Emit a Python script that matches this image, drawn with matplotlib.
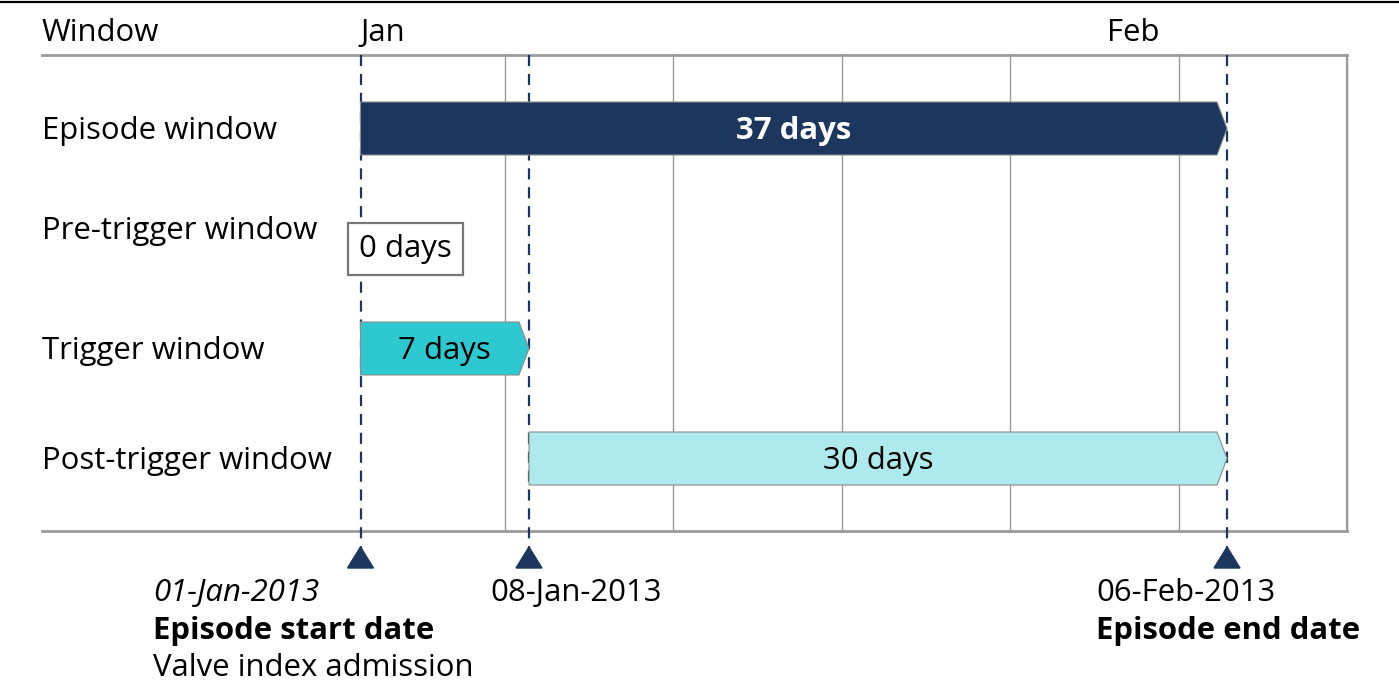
import numpy as np
import pandas as pd
import matplotlib.pyplot as plt
import matplotlib.dates as mdates
from matplotlib.patches import Polygon

plt.rcParams['font.family'] = ['Open Sans', 'DejaVu Sans']

# data
windows = ['Episode window', 'Pre-trigger window', 'Trigger window', 'Post-trigger window']
win_start = ['2013-01-01', '2013-01-01', '2013-01-01', '2013-01-08']
win_end = ['2013-02-06', '2013-01-01', '2013-01-08', '2013-02-06']
win_days = [37, 0, 7, 30]
win_colors = ['#1c365e', '#ffffff', '#2ec9d0', '#aeeaed']
win_text_colors = ['white', 'black', 'black', 'black']

month_ticks = ['2013-01-01', '2013-02-01']
month_labels = ['Jan', 'Feb']
week_lines = pd.date_range('2013-01-07', '2013-02-11', freq='7D')

key_dates = ['2013-01-01', '2013-01-08', '2013-02-06']
key_labels = ['01-Jan-2013', '08-Jan-2013', '06-Feb-2013']
key_titles = ['Episode start date', '', 'Episode end date']
key_notes = ['Valve index admission', '', '']

navy = '#1c365e'
grid_grey = '#9a9a9a'
fs = 22.4

# layout: 24.07 px per day, 01-Jan at pixel 360.5
W, H = 1399, 700
px_day = 24.07
d0 = mdates.date2num(pd.Timestamp('2013-01-01'))
xmin = d0 - 360.5 / px_day
xmax = xmin + W / px_day

def xd(s):
    return mdates.date2num(pd.Timestamp(s))

def px(p):
    return xmin + p / px_day

fig = plt.figure(figsize=(W / 100, H / 100), dpi=100)
ax = fig.add_axes([0, 0, 1, 1])
ax.set_xlim(xmin, xmax)
ax.set_ylim(H, 0)
ax.axis('off')

row_y = [128.5, 238, 348.5, 458.5]
bar_h = 53
tip = 10 / px_day
right_edge = xd(week_lines[-1])
label_x = px(42)
dy = 3  # nudge text down to match reference baseline

# top border
fig.add_artist(plt.Line2D([0, 1], [1 - 1.5 / H, 1 - 1.5 / H], color='black', lw=1.6))

# frame lines
ax.plot([label_x, right_edge], [55, 55], color=grid_grey, lw=2, zorder=1)
ax.plot([label_x, right_edge], [531, 531], color=grid_grey, lw=2, zorder=1)
for w in week_lines:
    ax.plot([xd(w), xd(w)], [55, 531], color=grid_grey, lw=1, zorder=1)
ax.plot([right_edge, right_edge], [55, 531], color=grid_grey, lw=1.6, zorder=1)

# header
ax.text(label_x, 30 + dy, 'Window', fontsize=fs, va='center', ha='left')
for m, lab in zip(month_ticks, month_labels):
    ax.text(xd(m), 30 + dy, lab, fontsize=fs, va='center', ha='left')

# dashed markers and triangles
for d in key_dates:
    x = xd(d)
    ax.plot([x, x], [55, 552], color=navy, lw=1.6, dashes=(5, 3.5), zorder=2)
    tri = Polygon([[x - 13 / px_day, 568], [x + 13 / px_day, 568], [x, 547]],
                  closed=True, color=navy, zorder=3)
    ax.add_patch(tri)

# rows
for i, name in enumerate(windows):
    y = row_y[i]
    ax.text(label_x, y + dy - (10 if i == 1 else 0), name, fontsize=fs, va='center', ha='left')
    s, e = xd(win_start[i]), xd(win_end[i])
    if win_days[i] == 0:
        ax.text(s - 1.5 / px_day, y + dy + 8, f'{win_days[i]} days', fontsize=fs,
                va='center', ha='left', zorder=4,
                bbox=dict(boxstyle='square,pad=0.36', fc='white', ec='#777777', lw=1.6))
        continue
    yt, yb = y - bar_h / 2, y + bar_h / 2
    poly = Polygon([[s, yt], [e - tip, yt], [e, y], [e - tip, yb], [s, yb]], closed=True,
                   fc=win_colors[i], ec='#8c8c8c', lw=0.8, zorder=4)
    ax.add_patch(poly)
    ax.text((s + e) / 2, y + dy, f'{win_days[i]} days', fontsize=fs, va='center', ha='center',
            color=win_text_colors[i], fontweight='bold' if i == 0 else 'normal', zorder=5)

# date annotations below
label_left = [px(153), px(490), px(1096)]
for i, d in enumerate(key_dates):
    ax.text(label_left[i], 590 + dy, key_labels[i], fontsize=fs, va='center', ha='left',
            fontstyle='italic' if i == 0 else 'normal')
    if key_titles[i]:
        ax.text(label_left[i], 628 + dy, key_titles[i], fontsize=fs, va='center', ha='left',
                fontweight='bold')
    if key_notes[i]:
        ax.text(label_left[i], 665 + dy, key_notes[i], fontsize=fs, va='center', ha='left')

fig.savefig('out.png', dpi=100)
